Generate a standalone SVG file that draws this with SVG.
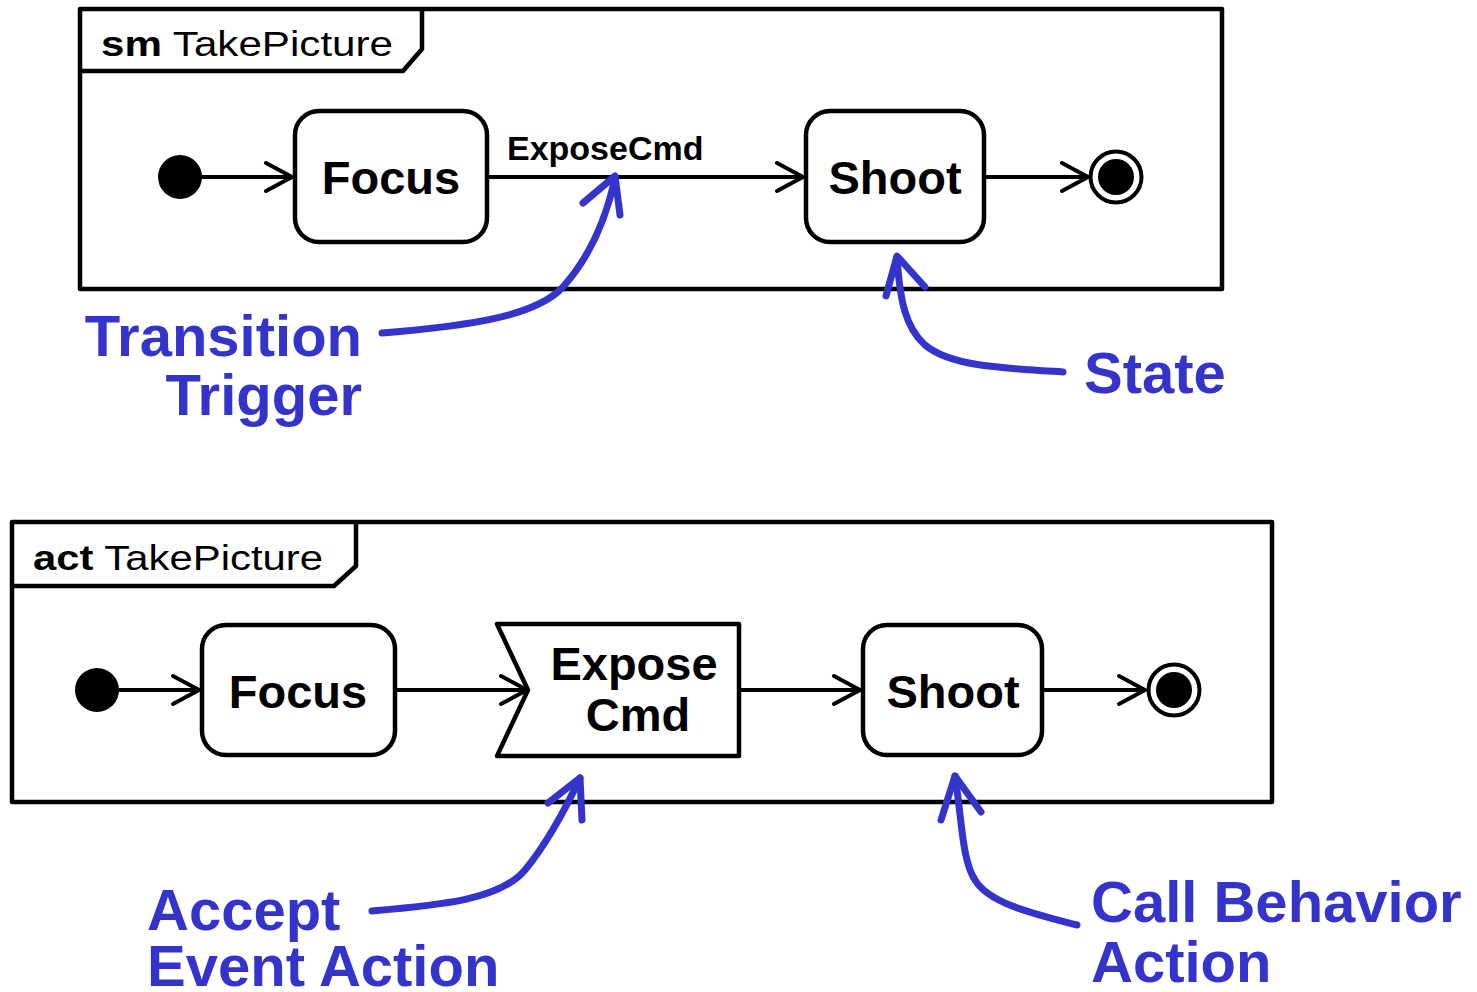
<svg xmlns="http://www.w3.org/2000/svg" width="1477" height="992" viewBox="0 0 1477 992">
  <style>
    .frame { fill: none; stroke: #000; stroke-width: 4.5; stroke-linejoin: round; }
    .node { fill: #fff; stroke: #000; stroke-width: 4.5; stroke-linejoin: round; }
    .edge { fill: none; stroke: #000; stroke-width: 4; stroke-linecap: round; stroke-linejoin: round; }
    .title { font-family: "Liberation Sans", Arial, sans-serif; font-size: 35px; fill: #000; }
    .label { font-family: "Liberation Sans", Arial, sans-serif; font-weight: bold; font-size: 47px; fill: #000; text-anchor: middle; }
    .trig { font-family: "Liberation Sans", Arial, sans-serif; font-weight: bold; font-size: 34px; fill: #000; }
    .note { font-family: "Liberation Sans", Arial, sans-serif; font-weight: bold; font-size: 58px; fill: #3434cc; }
    .callout { fill: none; stroke: #3434cc; stroke-width: 7; stroke-linecap: round; stroke-linejoin: round; }
  </style>

  <!-- state machine frame -->
  <g id="sm-frame">
    <rect class="frame" x="80" y="9" width="1142" height="280"/>
    <path class="frame" d="M80,71 L403,71 L422,49 L422,9"/>
    <text class="title" x="101" y="56" textLength="292" lengthAdjust="spacingAndGlyphs"><tspan font-weight="bold">sm</tspan> TakePicture</text>
  </g>

  <g id="sm-initial"><circle cx="180" cy="177" r="22" fill="#000"/></g>
  <g id="sm-focus">
    <rect class="node" x="295" y="111" width="192" height="131" rx="24"/>
    <text class="label" x="391" y="194">Focus</text>
  </g>
  <g id="sm-shoot">
    <rect class="node" x="806" y="111" width="178" height="131" rx="24"/>
    <text class="label" x="895" y="194">Shoot</text>
  </g>
  <g id="sm-final">
    <circle cx="1116" cy="177" r="25.5" fill="#fff" stroke="#000" stroke-width="4"/>
    <circle cx="1116" cy="177" r="18" fill="#000"/>
  </g>

  <!-- activity frame -->
  <g id="act-frame">
    <rect class="frame" x="12" y="522" width="1260" height="280"/>
    <path class="frame" d="M12,586 L334,586 L356,566 L356,522"/>
    <text class="title" x="33" y="570" textLength="290" lengthAdjust="spacingAndGlyphs"><tspan font-weight="bold">act</tspan> TakePicture</text>
  </g>

  <g id="act-initial"><circle cx="97" cy="690" r="22" fill="#000"/></g>
  <g id="act-focus">
    <rect class="node" x="202" y="625" width="193" height="130" rx="24"/>
    <text class="label" x="298" y="708">Focus</text>
  </g>
  <g id="act-accept">
    <polygon class="node" points="497,624 739,624 739,756 497,756 528,690"/>
    <text class="label" x="634" y="680">Expose</text>
    <text class="label" x="638" y="731">Cmd</text>
  </g>
  <g id="act-shoot">
    <rect class="node" x="863" y="625" width="179" height="130" rx="24"/>
    <text class="label" x="953" y="708">Shoot</text>
  </g>
  <g id="act-final">
    <circle cx="1174" cy="690" r="25.5" fill="#fff" stroke="#000" stroke-width="4"/>
    <circle cx="1174" cy="690" r="18" fill="#000"/>
  </g>

  <!-- connectors -->
  <g id="connectors">
    <path class="edge" d="M202,177 L292,177 M266,163 L292,177 L266,191"/>
    <path class="edge" d="M487,177 L803,177 M777,163 L803,177 L777,191"/>
    <text class="trig" x="507" y="160">ExposeCmd</text>
    <path class="edge" d="M984,177 L1088,177 M1062,163 L1088,177 L1062,191"/>

    <path class="edge" d="M119,690 L199,690 M173,676 L199,690 L173,704"/>
    <path class="edge" d="M395,690 L527,690 M501,676 L527,690 L501,704"/>
    <path class="edge" d="M739,690 L860,690 M834,676 L860,690 L834,704"/>
    <path class="edge" d="M1042,690 L1145,690 M1119,676 L1145,690 L1119,704"/>
  </g>

  <!-- annotations -->
  <g id="note-transition">
    <path class="callout" d="M382,333 C470,326 535,316 562,288 C592,255 607,215 615,178"/>
    <path class="callout" d="M583,203 L615,176 L620,215"/>
    <text class="note" x="362" y="356" text-anchor="end">Transition</text>
    <text class="note" x="362" y="415" text-anchor="end">Trigger</text>
  </g>
  <g id="note-state">
    <path class="callout" d="M1063,372 C1000,368 950,366 925,345 C905,327 900,300 897,258"/>
    <path class="callout" d="M886,296 L897,256 L925,287"/>
    <text class="note" x="1084" y="393">State</text>
  </g>
  <g id="note-accept">
    <path class="callout" d="M372,911 C440,905 500,900 525,870 C548,842 565,810 580,778"/>
    <path class="callout" d="M548,803 L580,778 L582,820"/>
    <text class="note" x="147" y="930">Accept</text>
    <text class="note" x="147" y="986">Event Action</text>
  </g>
  <g id="note-call">
    <path class="callout" d="M1077,925 C1040,915 990,905 975,880 C962,860 962,820 955,776"/>
    <path class="callout" d="M941,820 L955,776 L981,812"/>
    <text class="note" x="1091" y="922">Call Behavior</text>
    <text class="note" x="1091" y="982">Action</text>
  </g>
</svg>
